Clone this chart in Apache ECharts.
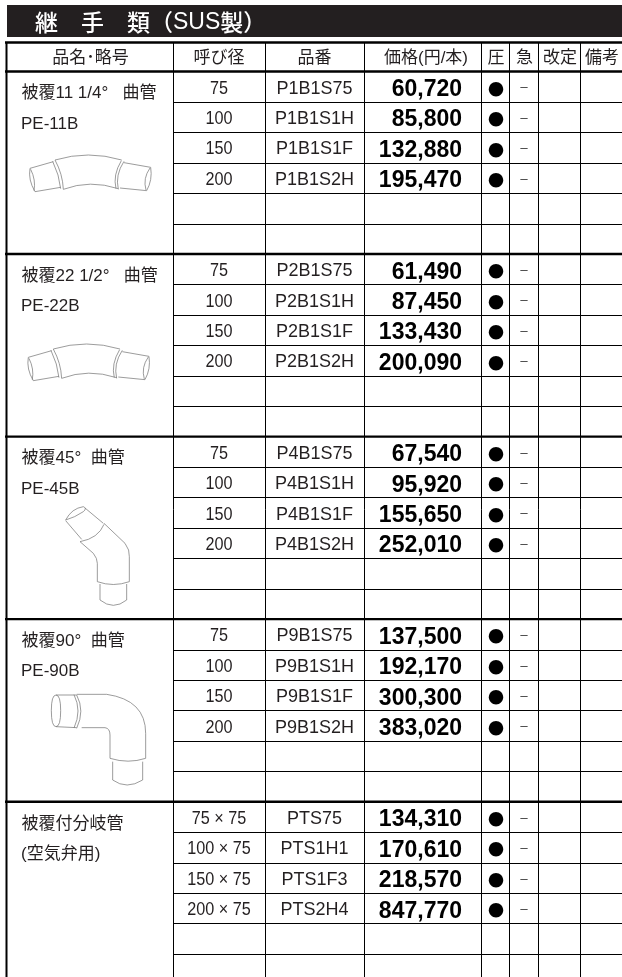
<!DOCTYPE html>
<html>
<head>
<meta charset="utf-8">
<style>
html, body { margin: 0; padding: 0; background: #fff; }
#chart { width: 622px; height: 977px; }
</style>
<script src="https://cdn.jsdelivr.net/npm/echarts@6/dist/echarts.min.js"></script>
</head>
<body>
<div id="chart"></div>
<script>
const headers = ["品名･略号", "呼び径", "品番", "価格(円/本)", "圧", "急", "改定", "備考"];
const sectionNames = ["被覆11 1/4°   曲管", "被覆22 1/2°   曲管", "被覆45°  曲管", "被覆90°  曲管", "被覆付分岐管"];
const sectionCodes = ["PE-11B", "PE-22B", "PE-45B", "PE-90B", "(空気弁用)"];
const sizes = [
  ["75", "100", "150", "200"],
  ["75", "100", "150", "200"],
  ["75", "100", "150", "200"],
  ["75", "100", "150", "200"],
  ["75 × 75", "100 × 75", "150 × 75", "200 × 75"],
];
const partNumbers = [
  ["P1B1S75", "P1B1S1H", "P1B1S1F", "P1B1S2H"],
  ["P2B1S75", "P2B1S1H", "P2B1S1F", "P2B1S2H"],
  ["P4B1S75", "P4B1S1H", "P4B1S1F", "P4B1S2H"],
  ["P9B1S75", "P9B1S1H", "P9B1S1F", "P9B1S2H"],
  ["PTS75", "PTS1H1", "PTS1F3", "PTS2H4"],
];
const prices = [
  ["60,720", "85,800", "132,880", "195,470"],
  ["61,490", "87,450", "133,430", "200,090"],
  ["67,540", "95,920", "155,650", "252,010"],
  ["137,500", "192,170", "300,300", "383,020"],
  ["134,310", "170,610", "218,570", "847,770"],
];
const pressureMark = "●";
const quickMark = "－";
const rowsPerSection = 6;

// layout, in page pixels
const columnEdges = [6, 173, 265, 364, 481, 509, 538, 580];
const headerNudge = [1, 0, 0, 3.5, 1, 1, 1, 1];
const tableTop = 41;
const rowCountOnAxis = 30.76;
const textColor = "#231f20";
const sansFont = '"Liberation Sans", "Noto Sans CJK JP", sans-serif';
const narrowFont = '"Liberation Sans Narrow", "Liberation Sans", sans-serif';
const cjkFont = '"Noto Sans CJK JP", sans-serif';

// outline of the fittings, in 3x page pixels
const pipeShallow =
  "M165 480 Q265 450 365 480 M190 568 Q270 538 355 566 M165 480 Q188 522 190 568 M158 484 Q178 525 182 566 " +
  "M372 484 Q345 525 355 568 M364 482 Q338 525 348 566 M90 505 L160 485 M105 575 L182 562 " +
  "M90 505 Q84 540 105 575 M92 508 Q108 540 102 572 M372 488 L452 502 M360 564 L440 572 " +
  "M452 502 Q458 540 440 572 M450 504 Q428 535 438 570";
const pipe45 =
  "M197 270 Q215 235 250 230 Q262 235 250 245 Q225 262 197 270 Z M197 272 L245 328 M255 234 L310 280 " +
  "M240 335 Q295 325 312 283 M312 280 L375 340 Q390 360 388 380 L388 455 M240 335 L280 370 Q292 385 292 400 L292 455 " +
  "M292 455 Q340 472 388 455 M300 462 L300 510 Q340 542 380 510 L380 462";
const pipe90 =
  "M168 15 Q154 15 154 62 Q154 110 168 110 Q182 110 182 62 Q182 15 168 15 Z M168 15 L230 15 M168 110 L230 113 " +
  "M230 15 Q255 62 230 115 M222 14 Q246 62 222 114 M230 13 L320 13 Q437 30 437 130 L437 205 M245 113 L315 113 Q330 115 330 135 L330 205 " +
  "M330 205 Q385 222 437 205 M338 215 L338 270 Q380 300 428 270 L428 215";
const pipes = [
  { path: pipeShallow, x: 0, y: 0 },
  { path: pipeShallow, x: -1.7, y: 189 },
  { path: pipe45, x: 0, y: 430 },
  { path: pipe90, x: 0, y: 690 },
];

const rowIndexes = [];
for (let r = 0; r <= 30; r++) rowIndexes.push(r);

// one row: section index and the row inside the section (header is row 0)
const cellOf = (r) => ({
  section: Math.floor((r - 1) / rowsPerSection),
  inner: (r - 1) % rowsPerSection,
});

const textEl = (x, y, text, font, align, fill, scaleX) => ({
  type: "text",
  x: x,
  y: y,
  scaleX: scaleX || 1,
  style: {
    text: text,
    x: 0,
    y: 0,
    font: font,
    fill: fill || textColor,
    align: align || "center",
    verticalAlign: "middle",
  },
});

const renderLines = (params, api) => {
  const r = rowIndexes[params.dataIndex];
  const y = api.coord([0, r])[1];
  const children = [];
  const right = api.coord([622, 0])[0];
  const thick = r === 0 || (r - 1) % rowsPerSection === 0;
  const startX = thick ? columnEdges[0] - 1 : columnEdges[1];
  let lineY = thick ? y : Math.round(y) + 0.5;
  if (r === 0) lineY = y + 1.5;
  children.push({
    type: "line",
    shape: { x1: startX, y1: lineY, x2: right, y2: lineY },
    style: { stroke: "#000", lineWidth: thick ? 2.4 : 1 },
  });
  if (r === 0) {
    const bottom = api.coord([0, rowCountOnAxis])[1];
    columnEdges.forEach((edge, i) => {
      children.push({
        type: "line",
        shape: { x1: edge + 0.5, y1: lineY, x2: edge + 0.5, y2: bottom },
        style: { stroke: "#000", lineWidth: i === 0 ? 2 : 1 },
      });
    });
  }
  return { type: "group", children: children };
};

const renderCells = (params, api) => {
  const r = rowIndexes[params.dataIndex];
  const mid = api.coord([0, r + 0.5])[1];
  const children = [];
  const centerOf = (i) => (columnEdges[i] + (columnEdges[i + 1] || 622)) / 2;

  if (r === 0) {
    headers.forEach((h, i) => {
      children.push(textEl(centerOf(i) + headerNudge[i], mid + 2.5, h, "17px " + sansFont));
    });
    return { type: "group", children: children };
  }

  const { section, inner } = cellOf(r);
  if (inner === 0) {
    children.push(textEl(21.5, mid + 7, sectionNames[section], "17px " + sansFont, "left"));
  }
  if (inner === 1) {
    children.push(textEl(21, mid + 7, sectionCodes[section], "17px " + sansFont, "left"));
  }
  if (inner < sizes[section].length) {
    children.push(textEl(centerOf(1), mid + 2, sizes[section][inner], "18px " + sansFont, "center", null, 0.9));
    children.push(textEl(centerOf(2), mid + 2, partNumbers[section][inner], "18px " + sansFont));
    children.push(textEl(462, mid + 3, prices[section][inner], "bold 23px " + sansFont, "right", "#000"));
    children.push(textEl(496, mid + 2, pressureMark, "16px " + cjkFont, "center", "#000"));
    children.push(textEl(524, mid + 1, quickMark, "10px " + cjkFont, "center", "#000"));
  }
  return { type: "group", children: children };
};

const renderPipe = (params) => {
  const p = pipes[params.dataIndex];
  return {
    type: "path",
    x: p.x,
    y: p.y,
    scaleX: 1 / 3,
    scaleY: 1 / 3,
    shape: { pathData: p.path },
    style: { fill: "none", stroke: "#777", lineWidth: 2.2 },
  };
};

const myChart = echarts.init(document.getElementById("chart"), null, { renderer: "canvas" });

const option = {
  animation: false,
  backgroundColor: "#fff",
  title: {
    text: "{a|継　手　類（}{b|SUS}{a|製）}",
    left: 35,
    top: 11,
    padding: 0,
    textStyle: {
      rich: {
        a: { color: "#fff", fontFamily: cjkFont, fontSize: 23, fontWeight: 500 },
        b: { color: "#fff", fontFamily: narrowFont, fontSize: 23, fontWeight: "normal" },
      },
    },
  },
  graphic: [
    {
      type: "rect",
      z: -1,
      silent: true,
      shape: { x: 7, y: 5, width: 615, height: 32 },
      style: { fill: "#231f20" },
    },
  ],
  grid: { left: 0, right: 0, top: tableTop, bottom: 0 },
  xAxis: { type: "value", min: 0, max: 622, show: false },
  yAxis: { type: "value", min: 0, max: rowCountOnAxis, inverse: true, show: false },
  series: [
    {
      type: "custom",
      coordinateSystem: "cartesian2d",
      silent: true,
      clip: false,
      data: rowIndexes.map((r) => [0, r]),
      renderItem: renderLines,
    },
    {
      type: "custom",
      coordinateSystem: "cartesian2d",
      silent: true,
      clip: false,
      data: rowIndexes.slice(0, 30).map((r) => [0, r]),
      renderItem: renderCells,
    },
    {
      type: "custom",
      coordinateSystem: "cartesian2d",
      silent: true,
      clip: false,
      data: pipes.map((p, i) => [0, i]),
      renderItem: renderPipe,
    },
  ],
};

myChart.setOption(option);
</script>
</body>
</html>
